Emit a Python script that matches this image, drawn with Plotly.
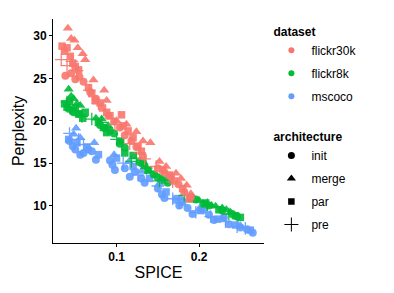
import plotly.graph_objects as go

# ---------------- data ----------------
datasets = ["flickr30k", "flickr8k", "mscoco"]
architectures = ["init", "merge", "par", "pre"]

# flickr30k
f30_init_x = [0.038, 0.045, 0.050, 0.055, 0.060, 0.068, 0.075, 0.090, 0.097, 0.104, 0.110, 0.118, 0.124, 0.132, 0.150, 0.158, 0.166, 0.175, 0.182, 0.190]
f30_init_y = [25.3, 25.6, 24.9, 25.2, 24.6, 23.4, 22.6, 20.6, 19.9, 19.2, 18.3, 17.6, 16.9, 15.8, 14.4, 13.9, 13.4, 12.5, 11.6, 11.0]
f30_merge_x = [0.041, 0.045, 0.049, 0.053, 0.059, 0.062, 0.072, 0.085, 0.088, 0.100, 0.112, 0.124, 0.132, 0.141, 0.152, 0.160, 0.172, 0.178, 0.185, 0.190]
f30_merge_y = [30.9, 29.7, 29.5, 28.6, 27.9, 27.2, 24.8, 23.6, 22.4, 20.0, 19.6, 18.7, 17.6, 17.4, 15.2, 14.6, 13.8, 13.2, 12.4, 11.4]
f30_par_x = [0.034, 0.037, 0.040, 0.044, 0.047, 0.050, 0.054, 0.066, 0.070, 0.074, 0.080, 0.083, 0.088, 0.092, 0.106, 0.108, 0.114, 0.120, 0.126, 0.130, 0.156, 0.164, 0.170, 0.180, 0.188]
f30_par_y = [28.8, 28.2, 28.6, 27.6, 26.8, 26.4, 26.0, 23.9, 23.2, 22.4, 22.1, 21.5, 21.0, 20.6, 20.7, 19.4, 18.8, 18.0, 17.0, 16.4, 14.2, 13.6, 12.9, 12.0, 10.8]
f30_pre_x = [0.033, 0.040, 0.046, 0.052, 0.067, 0.078, 0.098, 0.116, 0.128, 0.134, 0.148, 0.168]
f30_pre_y = [27.2, 26.5, 27.0, 25.9, 23.6, 22.0, 19.6, 17.3, 16.2, 15.5, 14.6, 12.8]

# flickr8k
f8_init_x = [0.042, 0.048, 0.055, 0.080, 0.086, 0.092, 0.097, 0.104, 0.110, 0.128, 0.134, 0.145, 0.150, 0.162, 0.196, 0.205, 0.212, 0.228, 0.240, 0.246]
f8_init_y = [21.4, 21.0, 20.8, 19.5, 19.1, 18.8, 18.5, 17.3, 16.8, 15.1, 14.7, 13.7, 13.3, 12.7, 10.7, 10.2, 10.0, 9.4, 9.0, 8.7]
f8_merge_x = [0.042, 0.045, 0.048, 0.052, 0.056, 0.075, 0.082, 0.090, 0.140, 0.148, 0.155, 0.192, 0.200, 0.215, 0.220, 0.228, 0.233, 0.238]
f8_merge_y = [23.7, 22.9, 22.6, 22.0, 21.8, 20.3, 20.2, 19.4, 14.0, 13.6, 13.2, 11.0, 10.6, 10.0, 9.9, 9.7, 9.5, 9.2]
f8_par_x = [0.037, 0.040, 0.043, 0.047, 0.050, 0.054, 0.059, 0.062, 0.078, 0.084, 0.088, 0.105, 0.110, 0.120, 0.132, 0.138, 0.158, 0.190, 0.208, 0.224, 0.244, 0.250]
f8_par_y = [22.0, 21.6, 22.3, 21.2, 21.5, 20.8, 20.3, 21.0, 19.8, 19.2, 18.6, 17.6, 16.2, 15.9, 15.0, 14.2, 13.0, 10.8, 10.3, 9.5, 8.8, 8.6]
f8_pre_x = [0.040, 0.058, 0.070, 0.082, 0.100, 0.118, 0.124, 0.136, 0.152, 0.182, 0.210, 0.236]
f8_pre_y = [22.2, 20.5, 20.2, 19.8, 17.8, 15.2, 15.6, 14.4, 12.9, 11.2, 10.1, 9.0]

# mscoco
coco_init_x = [0.043, 0.047, 0.050, 0.056, 0.060, 0.066, 0.070, 0.075, 0.092, 0.095, 0.098, 0.110, 0.116, 0.122, 0.130, 0.134, 0.150, 0.155, 0.158, 0.172, 0.176, 0.186, 0.192, 0.205, 0.212, 0.218, 0.230, 0.236, 0.250, 0.258, 0.265]
coco_init_y = [17.6, 17.0, 16.6, 16.0, 16.2, 16.6, 16.4, 15.4, 15.3, 14.8, 14.2, 14.4, 13.4, 14.0, 13.2, 12.7, 12.0, 11.3, 10.9, 10.8, 10.0, 9.7, 9.0, 9.5, 8.9, 8.3, 8.6, 7.8, 7.4, 7.2, 6.8]
coco_merge_x = [0.048, 0.051, 0.056, 0.073, 0.097, 0.115, 0.130, 0.152, 0.178, 0.200, 0.228, 0.250]
coco_merge_y = [18.4, 19.1, 18.0, 17.4, 16.0, 15.2, 14.0, 12.6, 10.9, 9.6, 8.5, 7.6]
coco_par_x = [0.042, 0.052, 0.064, 0.078, 0.100, 0.120, 0.140, 0.160, 0.180, 0.202, 0.222, 0.244, 0.262]
coco_par_y = [17.8, 17.4, 16.9, 16.0, 15.6, 14.6, 13.2, 11.6, 10.4, 9.4, 8.4, 7.7, 7.1]
coco_pre_x = [0.043, 0.054, 0.060, 0.108, 0.126, 0.150, 0.168, 0.176, 0.196, 0.214, 0.232, 0.246, 0.256]
coco_pre_y = [18.5, 17.8, 17.2, 15.0, 13.6, 12.3, 10.8, 10.3, 9.2, 8.7, 8.1, 7.5, 7.3]

x_ticks = [0.1, 0.2]
x_tick_labels = ["0.1", "0.2"]
y_ticks = [10, 15, 20, 25, 30]

# ---------------- styling ----------------
colors = {"flickr30k": "#F8766D", "flickr8k": "#00BA38", "mscoco": "#619CFF"}
symbols = {"init": "circle", "merge": "triangle-up", "par": "square", "pre": "cross-thin"}
sizes = {"init": 8, "merge": 9, "par": 7.5, "pre": 9}

series = {
    "flickr30k": {"init": (f30_init_x, f30_init_y), "merge": (f30_merge_x, f30_merge_y),
                  "par": (f30_par_x, f30_par_y), "pre": (f30_pre_x, f30_pre_y)},
    "flickr8k": {"init": (f8_init_x, f8_init_y), "merge": (f8_merge_x, f8_merge_y),
                 "par": (f8_par_x, f8_par_y), "pre": (f8_pre_x, f8_pre_y)},
    "mscoco": {"init": (coco_init_x, coco_init_y), "merge": (coco_merge_x, coco_merge_y),
               "par": (coco_par_x, coco_par_y), "pre": (coco_pre_x, coco_pre_y)},
}

fig = go.Figure()

for ds in ["mscoco", "flickr8k", "flickr30k"]:
    for arch in architectures:
        xs, ys = series[ds][arch]
        marker = dict(color=colors[ds], symbol=symbols[arch], size=sizes[arch], opacity=0.9)
        if arch == "pre":
            marker["line"] = dict(color=colors[ds], width=1.3)
        else:
            marker["line"] = dict(width=0)
        fig.add_trace(go.Scatter(x=xs, y=ys, mode="markers", marker=marker,
                                 showlegend=False, hoverinfo="skip"))

# legend entries: dataset (legend) and architecture (legend2)
for ds in datasets:
    fig.add_trace(go.Scatter(x=[None], y=[None], mode="markers", name=ds,
                             marker=dict(color=colors[ds], symbol="circle", size=6),
                             legend="legend", legendgroup="d_" + ds))
for arch in architectures:
    m = dict(color="black", symbol=symbols[arch], size=7 if arch != "merge" else 8)
    if arch == "pre":
        m["line"] = dict(color="black", width=1)
        m["size"] = 10
    if arch == "par":
        m["size"] = 6.5
    fig.add_trace(go.Scatter(x=[None], y=[None], mode="markers", name=arch, marker=m,
                             legend="legend2", legendgroup="a_" + arch))

leg_common = dict(xanchor="left", yanchor="top", traceorder="grouped", tracegroupgap=4,
                  font=dict(size=12, color="black"), itemsizing="trace",
                  bgcolor="rgba(0,0,0,0)")

# the page body has an 8px margin, so the figure is sized to fit the window
fig.update_layout(
    template="none",
    width=386, height=285,
    margin=dict(l=45, r=130, t=11, b=50, autoexpand=False),
    paper_bgcolor="white", plot_bgcolor="white",
    font=dict(family="Liberation Sans, Arial, sans-serif", color="black", size=12),
    legend=dict(x=1.035, y=0.995, title=dict(text="dataset", font=dict(size=12, weight="bold")),
                **leg_common),
    legend2=dict(x=1.035, y=0.525, title=dict(text="architecture", font=dict(size=12, weight="bold")),
                 **leg_common),
    showlegend=True,
)
fig.update_xaxes(range=[0.0230, 0.2786], tickvals=x_ticks, ticktext=x_tick_labels,
                 automargin=False,
                 showgrid=False, zeroline=False, showline=True, linecolor="black", linewidth=1,
                 ticks="outside", ticklen=3, tickcolor="black",
                 tickfont=dict(size=12, weight="bold", color="black"),
                 title=dict(text="SPICE", font=dict(size=16), standoff=3))
fig.update_yaxes(range=[5.58, 32.0], tickvals=y_ticks,
                 automargin=False,
                 showgrid=False, zeroline=False, showline=True, linecolor="black", linewidth=1,
                 ticks="outside", ticklen=3, tickcolor="black",
                 tickfont=dict(size=12, weight="bold", color="black"),
                 title=dict(text="Perplexity", font=dict(size=16), standoff=4))

fig.write_html("out.html")
